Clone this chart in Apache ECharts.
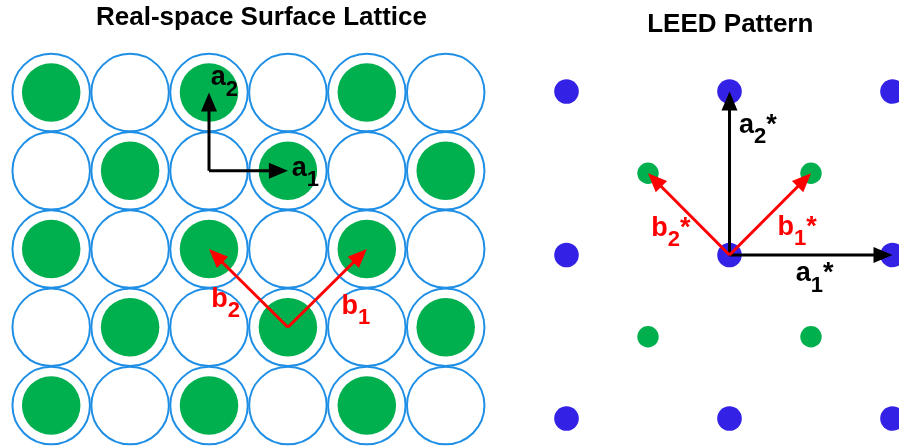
<!DOCTYPE html>
<html>
<head>
<meta charset="utf-8">
<title>c(2x2) overlayer and LEED pattern</title>
<script src="https://cdn.jsdelivr.net/npm/echarts/dist/echarts.min.js"></script>
<style>
  html, body { margin: 0; padding: 0; background: #ffffff; }
  #chart { width: 899px; height: 448px; }
</style>
</head>
<body>
<div id="chart"></div>
<script>
// ---- Real-space lattice (column, row) ----
const substrateSites = [
  [0, 0], [1, 0], [2, 0], [3, 0], [4, 0], [5, 0],
  [0, 1], [1, 1], [2, 1], [3, 1], [4, 1], [5, 1],
  [0, 2], [1, 2], [2, 2], [3, 2], [4, 2], [5, 2],
  [0, 3], [1, 3], [2, 3], [3, 3], [4, 3], [5, 3],
  [0, 4], [1, 4], [2, 4], [3, 4], [4, 4], [5, 4]
];
const adsorbateSites = [
  [0, 0], [2, 0], [4, 0],
  [1, 1], [3, 1], [5, 1],
  [0, 2], [2, 2], [4, 2],
  [1, 3], [3, 3], [5, 3],
  [0, 4], [2, 4], [4, 4]
];
// unit-cell vectors: [x0, y0, x1, y1]
const realVectors = [[2, 1, 3, 1], [2, 1, 2, 0], [3, 3, 4, 2], [3, 3, 2, 2]];
const realVectorNames = ['a1', 'a2', 'b1', 'b2'];

// ---- Diffraction pattern (h, k) ----
const integerSpots = [
  [-1, 1], [0, 1], [1, 1],
  [-1, 0], [0, 0], [1, 0],
  [-1, -1], [0, -1], [1, -1]
];
const halfOrderSpots = [[-0.5, 0.5], [0.5, 0.5], [-0.5, -0.5], [0.5, -0.5]];
const reciprocalVectors = [[0, 0, 1, 0], [0, 0, 0, 1], [0, 0, 0.5, 0.5], [0, 0, -0.5, 0.5]];
const reciprocalVectorNames = ['a1*', 'a2*', 'b1*', 'b2*'];

const panelTitles = ['Real-space Surface Lattice', 'LEED Pattern'];

// ---- styling ----
const FONT = '"Liberation Sans", Arial, Helvetica, sans-serif';
const COLOR = {
  substrateEdge: '#1f8fe6',
  adsorbate: '#00b04f',
  integerSpot: '#3322e6',
  halfSpot: '#00b04f',
  a: '#000000',
  b: '#ff0000'
};
const MAIN_SIZE = 27;
const SUB_SIZE = 22;
const HEAD_LEN = 19;
const HEAD_W = 16;
const LINE_W = 3;
// position of each label's first glyph (left, baseline), relative to the arrow tip
const LABEL_OFFSET = {
  'a1': [3.8, 7.2], 'a2': [1.7, -5.2], 'b1': [-25.3, 67], 'b2': [2.2, 60],
  'a1*': [-96.8, 28.3], 'a2*': [9.5, 43.5], 'b1*': [-33.5, 63.8], 'b2*': [3.2, 64.8]
};

function glyph(x, baseline, s, size, color) {
  return {
    type: 'text',
    x: x,
    y: baseline - 0.3465 * size,
    style: {
      text: s, fill: color,
      font: 'bold ' + size + 'px ' + FONT,
      textAlign: 'left', textVerticalAlign: 'middle'
    }
  };
}

function arrowRenderer(names) {
  return function (params, api) {
    const p0 = api.coord([api.value(0), api.value(1)]);
    const p1 = api.coord([api.value(2), api.value(3)]);
    const name = names[params.dataIndex];
    const color = COLOR[name[0]];
    const dx = p1[0] - p0[0], dy = p1[1] - p0[1];
    const len = Math.sqrt(dx * dx + dy * dy);
    const ux = dx / len, uy = dy / len;
    const nx = -uy, ny = ux;
    const bx = p1[0] - ux * HEAD_LEN, by = p1[1] - uy * HEAD_LEN;

    const off = LABEL_OFFSET[name];
    const lx = p1[0] + off[0], ly = p1[1] + off[1];
    const adv = name[0] === 'a' ? 0.556 * MAIN_SIZE : 0.611 * MAIN_SIZE;
    const children = [
      {
        type: 'line',
        shape: { x1: p0[0], y1: p0[1], x2: bx + ux, y2: by + uy },
        style: { stroke: color, lineWidth: LINE_W }
      },
      {
        type: 'polygon',
        shape: { points: [[p1[0], p1[1]], [bx + nx * HEAD_W / 2, by + ny * HEAD_W / 2], [bx - nx * HEAD_W / 2, by - ny * HEAD_W / 2]] },
        style: { fill: color }
      },
      glyph(lx, ly, name[0], MAIN_SIZE, color),
      glyph(lx + adv, ly + 10, name[1], SUB_SIZE, color)
    ];
    if (name.length > 2) {
      children.push(glyph(lx + adv + 0.556 * SUB_SIZE, ly, '*', MAIN_SIZE, color));
    }
    return { type: 'group', children: children };
  };
}

const chart = echarts.init(document.getElementById('chart'), null, { renderer: 'canvas' });

chart.setOption({
  animation: false,
  backgroundColor: '#ffffff',
  graphic: [
    {
      type: 'text', x: 261.5, y: 26.7 - 0.3465 * 26,
      style: { text: panelTitles[0], fill: '#000', font: 'bold 26px ' + FONT, textAlign: 'center', textVerticalAlign: 'middle' }
    },
    {
      type: 'text', x: 730.3, y: 34 - 0.3465 * 26,
      style: { text: panelTitles[1], fill: '#000', font: 'bold 26px ' + FONT, textAlign: 'center', textVerticalAlign: 'middle' }
    }
  ],
  grid: [
    { left: 11.75, top: 53.4, width: 473.4, height: 391.25, show: false },
    { left: 533.9, top: 58.8, width: 363.5, height: 376.05, show: false }
  ],
  xAxis: [
    { gridIndex: 0, type: 'value', min: -0.5, max: 5.5, show: false },
    { gridIndex: 1, type: 'value', min: -1.2, max: 1.03, show: false }
  ],
  yAxis: [
    { gridIndex: 0, type: 'value', min: -0.5, max: 4.5, inverse: true, show: false },
    { gridIndex: 1, type: 'value', min: -1.1, max: 1.2, show: false }
  ],
  series: [
    {
      type: 'scatter', xAxisIndex: 0, yAxisIndex: 0, clip: false, silent: true, z: 1,
      symbol: 'circle', symbolSize: 77.5,
      itemStyle: { color: '#ffffff', borderColor: COLOR.substrateEdge, borderWidth: 2, opacity: 1 },
      data: substrateSites
    },
    {
      type: 'scatter', xAxisIndex: 0, yAxisIndex: 0, clip: false, silent: true, z: 2,
      symbol: 'circle', symbolSize: 58.5,
      itemStyle: { color: COLOR.adsorbate, opacity: 1 },
      data: adsorbateSites
    },
    {
      type: 'custom', xAxisIndex: 0, yAxisIndex: 0, clip: false, silent: true, z: 3,
      encode: { x: [0, 2], y: [1, 3] },
      renderItem: arrowRenderer(realVectorNames),
      data: realVectors
    },
    {
      type: 'scatter', xAxisIndex: 1, yAxisIndex: 1, clip: false, silent: true, z: 1,
      symbol: 'circle', symbolSize: 24.6,
      itemStyle: { color: COLOR.integerSpot, opacity: 1 },
      data: integerSpots
    },
    {
      type: 'scatter', xAxisIndex: 1, yAxisIndex: 1, clip: false, silent: true, z: 1,
      symbol: 'circle', symbolSize: 21.4,
      itemStyle: { color: COLOR.halfSpot, opacity: 1 },
      data: halfOrderSpots
    },
    {
      type: 'custom', xAxisIndex: 1, yAxisIndex: 1, clip: false, silent: true, z: 3,
      encode: { x: [0, 2], y: [1, 3] },
      renderItem: arrowRenderer(reciprocalVectorNames),
      data: reciprocalVectors
    }
  ]
});
</script>
</body>
</html>
